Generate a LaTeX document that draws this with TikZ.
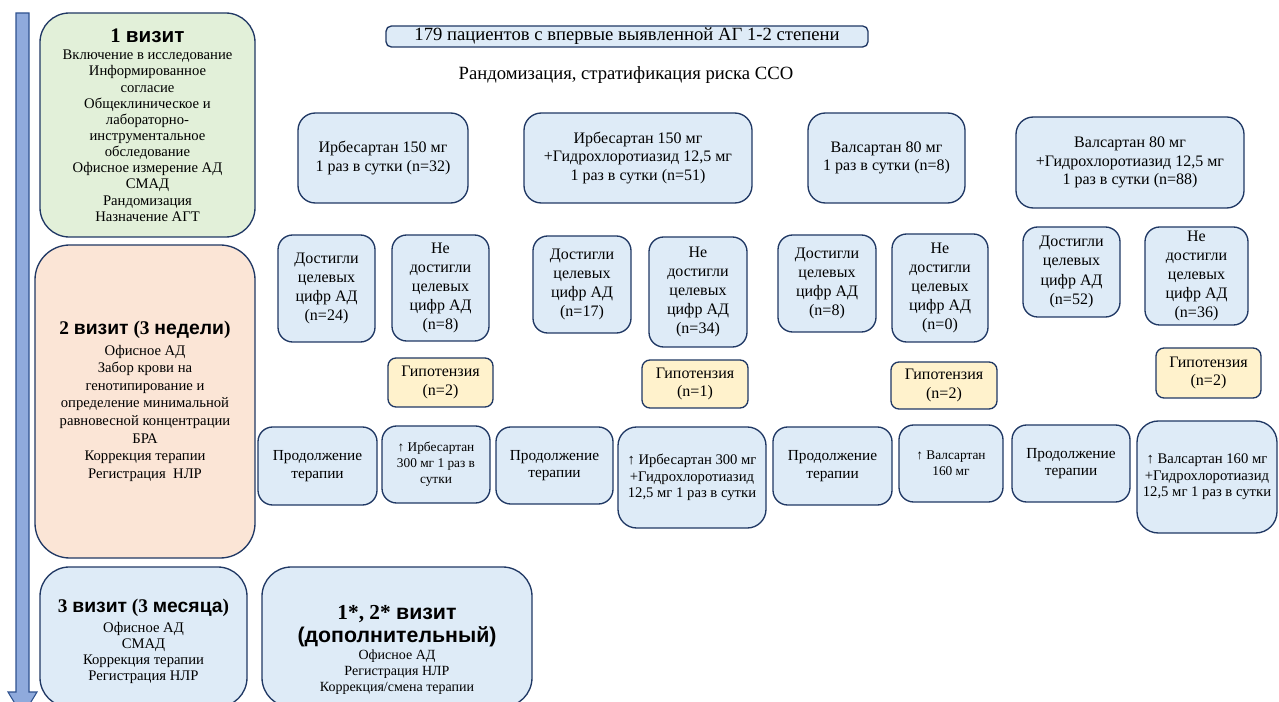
\documentclass[tikz,border=0pt]{standalone}
\usepackage{fontspec}
\setmainfont{Liberation Serif}
\newfontfamily\hsans{Liberation Sans}
\usetikzlibrary{positioning}
\definecolor{lineblue}{HTML}{203864}
\definecolor{boxblue}{HTML}{DEEBF7}
\definecolor{boxgreen}{HTML}{E2F0D9}
\definecolor{boxpeach}{HTML}{FBE5D6}
\definecolor{boxyellow}{HTML}{FFF2CC}
\definecolor{arrowfill}{HTML}{8FAADC}
\definecolor{arrowline}{HTML}{2F528F}
\tikzset{
base/.style = {rectangle, draw=lineblue, line width=1pt, fill=boxblue,
                         align=center, inner sep=1pt},
wh/.style 2 args = {minimum width=#1*0.75pt, minimum height=#2*0.75pt},
visitnode/.style = {base, rounded corners=22pt},
drugnode/.style = {base, rounded corners=13pt, font=\fontsize{12}{14}\selectfont},
resnode/.style = {base, rounded corners=11pt, font=\fontsize{12}{14.4}\selectfont},
hyponode/.style = {base, fill=boxyellow, rounded corners=6pt, font=\fontsize{12}{13.8}\selectfont},
stepnode/.style = {base, rounded corners=11pt, font=\fontsize{11.5}{13}\selectfont},
%every picture/.style={/utils/exec={\sffamily}}
}

\begin{document}
\begin{tikzpicture}[x=0.75pt, y=-0.75pt]
\useasboundingbox (0,0) rectangle (1279,702);

%Time axis
\draw[draw=arrowline, fill=arrowfill, line width=0.8pt] (16,13) -- (29,13) -- (29,692) -- (37,692)
  -- (22.5,716) -- (8,692) -- (16,692) -- cycle;

%Visits
\node[visitnode, fill=boxgreen, wh={215}{224}, font=\fontsize{11}{12.1}\selectfont] (visit1) at(147.5,125)
  {{\fontsize{15.5}{17}\selectfont\bfseries 1 {\hsans визит}}\\[1pt] Включение в исследование\\ Информированное\\ согласие\\
   Общеклиническое и\\ лабораторно-\\ инструментальное\\ обследование\\ Офисное измерение АД\\ СМАД\\
   Рандомизация\\ Назначение АГТ};
\node[visitnode, fill=boxpeach, rounded corners=26pt, wh={220}{313}, font=\fontsize{11}{13.2}\selectfont] (visit2) at(145,401.5)
  {{\fontsize{14.5}{16}\selectfont\bfseries 2 {\hsans визит} (3 {\hsans недели})}\\[2pt] Офисное АД\\ Забор крови на\\
   генотипирование и\\ определение минимальной\\ равновесной концентрации\\ БРА\\ Коррекция терапии\\
   Регистрация\ \ НЛР};
\node[visitnode, wh={207}{140}] (visit3) at(143.5,637) {};
\node[align=center, inner sep=0pt, font=\fontsize{11}{12}\selectfont] (visit3Text) at(143.5,641)
  {{\fontsize{14.5}{16}\selectfont\bfseries 3 {\hsans визит} (3 {\hsans месяца})}\\[3pt] Офисное АД\\ СМАД\\
   Коррекция терапии\\ Регистрация НЛР};
\node[visitnode, wh={270}{140}] (visitx) at(397,637) {};
\node[align=center, inner sep=0pt, font=\fontsize{10.5}{12}\selectfont] (visitxText) at(397,650)
  {{\fontsize{16}{18}\selectfont\bfseries 1*, 2* {\hsans визит}}\\[2pt]
   {\fontsize{16}{18}\selectfont\bfseries\hsans (дополнительный)}\\[1pt] Офисное АД\\ Регистрация НЛР\\
   Коррекция/смена терапии};

%Patients
\node[base, rounded corners=4pt, inner ysep=0pt, wh={482}{21}, font=\fontsize{14}{15}\selectfont] (patients) at(627,36.5)
  {179 пациентов с впервые выявленной АГ 1-2 степени};
\node[font=\fontsize{14}{15}\selectfont] (random) at(626,75) {Рандомизация, стратификация риска ССО};

%Therapy groups
\node[drugnode, wh={170}{90}] (irb) at(383,158) {Ирбесартан 150 мг\\ 1 раз в сутки (n=32)};
\node[drugnode, wh={228}{90}] (irbhct) at(638,158) {Ирбесартан 150 мг\\ +Гидрохлоротиазид 12,5 мг\\ 1 раз в сутки (n=51)};
\node[drugnode, wh={157}{90}] (val) at(886.5,158) {Валсартан 80 мг\\ 1 раз в сутки (n=8)};
\node[drugnode, wh={228}{91}] (valhct) at(1130,162.5) {Валсартан 80 мг\\ +Гидрохлоротиазид 12,5 мг\\ 1 раз в сутки (n=88)};

%Targets
\node[resnode, wh={97}{107}] (irbYes) at(326.5,288.5) {Достигли\\ целевых\\ цифр АД\\ (n=24)};
\node[resnode, wh={97}{106}] (irbNo) at(440.5,288) {Не\\ достигли\\ целевых\\ цифр АД\\ (n=8)};
\node[resnode, wh={98}{97}] (irbhctYes) at(582,284.5) {Достигли\\ целевых\\ цифр АД\\ (n=17)};
\node[resnode, wh={98}{110}] (irbhctNo) at(698,292) {Не\\ достигли\\ целевых\\ цифр АД\\ (n=34)};
\node[resnode, wh={98}{97}] (valYes) at(827,283.5) {Достигли\\ целевых\\ цифр АД\\ (n=8)};
\node[resnode, wh={96}{108}] (valNo) at(940,288) {Не\\ достигли\\ целевых\\ цифр АД\\ (n=0)};
\node[resnode, wh={97}{90}] (valhctYes) at(1071.5,272) {Достигли\\ целевых\\ цифр АД\\ (n=52)};
\node[resnode, wh={103}{98}] (valhctNo) at(1196.5,276) {Не\\ достигли\\ целевых\\ цифр АД\\ (n=36)};

%Hypotension
\node[hyponode, wh={105}{49}] (irbHypo) at(440.5,382.5) {Гипотензия\\ (n=2)};
\node[hyponode, wh={106}{48}] (irbhctHypo) at(695,384) {Гипотензия\\ (n=1)};
\node[hyponode, wh={106}{47}] (valHypo) at(944,385.5) {Гипотензия\\ (n=2)};
\node[hyponode, wh={105}{50}] (valhctHypo) at(1208.5,373) {Гипотензия\\ (n=2)};

%Further therapy
\node[stepnode, wh={119}{78}] (irbCont) at(317.5,466) {Продолжение\\ терапии};
\node[stepnode, wh={108}{77}, font=\fontsize{10}{12}\selectfont] (irbUp) at(436,464.5) {↑ Ирбесартан\\ 300 мг 1 раз в\\ сутки};
\node[stepnode, wh={117}{77}] (irbhctCont) at(554.5,465.5) {Продолжение\\ терапии};
\node[stepnode, rounded corners=14pt, wh={148}{101}, font=\fontsize{11}{12.5}\selectfont] (irbhctUp) at(692,477.5)
  {↑ Ирбесартан 300 мг\\ +Гидрохлоротиазид\\ 12,5 мг 1 раз в сутки};
\node[stepnode, wh={119}{78}] (valCont) at(832.5,466) {Продолжение\\ терапии};
\node[stepnode, wh={104}{77}, font=\fontsize{10}{12}\selectfont] (valUp) at(951,463.5) {↑ Валсартан\\ 160 мг};
\node[stepnode, wh={118}{77}] (valhctCont) at(1071,463.5) {Продолжение\\ терапии};
\node[stepnode, rounded corners=16pt, wh={140}{112}, font=\fontsize{11}{12.5}\selectfont] (valhctUp) at(1207,477)
  {↑ Валсартан 160 мг\\ +Гидрохлоротиазид\\ 12,5 мг 1 раз в сутки};
\end{tikzpicture}
\end{document}
